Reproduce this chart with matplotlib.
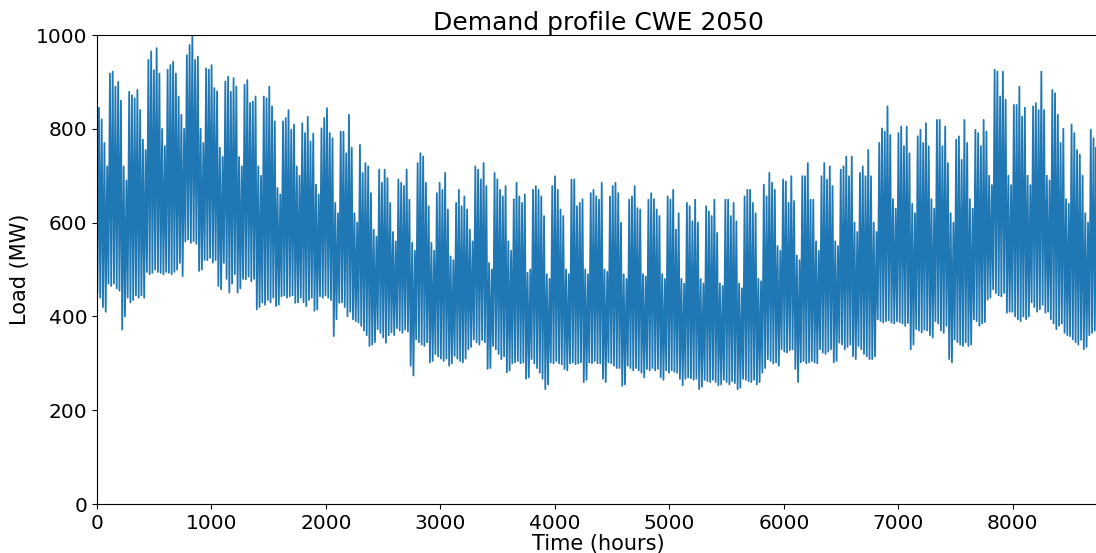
import numpy as np
import matplotlib
matplotlib.use("Agg")
import matplotlib.pyplot as plt

# daily peak load (MW), one value per day of the year
daily_peak = [
    845, 820, 770, 720, 918, 922, 890, 900, 860, 720,
    690, 879, 872, 865, 883, 840, 777, 755, 947, 965,
    925, 972, 918, 800, 763, 926, 936, 943, 918, 869,
    830, 800, 957, 979, 1000, 947, 954, 800, 770, 929,
    926, 936, 887, 880, 760, 740, 901, 911, 879, 908,
    890, 740, 720, 894, 904, 855, 858, 869, 720, 700,
    869, 865, 890, 848, 816, 674, 660, 816, 823, 840,
    798, 809, 720, 700, 812, 791, 826, 773, 790, 681,
    660, 801, 823, 844, 791, 780, 642, 620, 794, 794,
    748, 830, 760, 620, 600, 766, 706, 727, 720, 663,
    585, 570, 713, 685, 713, 695, 642, 580, 560, 692,
    685, 678, 713, 649, 557, 540, 727, 748, 741, 685,
    635, 557, 540, 663, 685, 670, 706, 628, 528, 520,
    642, 670, 635, 656, 628, 585, 560, 720, 713, 692,
    727, 678, 514, 500, 706, 692, 670, 656, 678, 560,
    540, 650, 685, 656, 642, 660, 493, 500, 670, 678,
    670, 656, 614, 490, 480, 678, 699, 670, 628, 614,
    500, 490, 692, 692, 635, 642, 650, 500, 490, 663,
    670, 656, 649, 685, 500, 495, 656, 678, 685, 663,
    600, 490, 480, 649, 656, 678, 631, 628, 490, 485,
    649, 663, 650, 628, 614, 490, 480, 656, 649, 670,
    585, 620, 480, 470, 642, 635, 603, 649, 600, 480,
    470, 635, 624, 614, 649, 578, 470, 465, 649, 649,
    614, 642, 603, 470, 460, 656, 670, 670, 642, 620,
    480, 475, 681, 656, 706, 685, 670, 550, 540, 692,
    688, 642, 699, 646, 530, 520, 699, 699, 727, 649,
    649, 560, 540, 699, 727, 692, 720, 678, 560, 550,
    713, 720, 741, 699, 741, 600, 580, 706, 720, 699,
    755, 699, 600, 580, 770, 801, 794, 848, 787, 650,
    630, 791, 805, 763, 805, 748, 640, 620, 784, 798,
    770, 812, 763, 650, 630, 819, 819, 763, 805, 727,
    620, 600, 777, 784, 734, 819, 770, 650, 630, 798,
    791, 763, 819, 794, 700, 680, 926, 922, 869, 922,
    862, 700, 680, 851, 851, 890, 826, 845, 700, 680,
    848, 855, 840, 922, 840, 700, 690, 883, 876, 830,
    770, 800, 650, 640, 809, 791, 755, 745, 700, 620,
    600, 798, 780, 760, 740,
]

# daily night-time minimum load (MW)
daily_trough = [
    450, 440, 420, 410, 470, 465, 470, 460, 455, 372,
    400, 440, 430, 435, 445, 440, 445, 440, 495, 490,
    493, 500, 495, 493, 490, 495, 493, 490, 495, 500,
    514, 486, 560, 564, 557, 560, 555, 497, 500, 521,
    520, 525, 515, 520, 465, 458, 514, 480, 451, 470,
    490, 451, 460, 480, 479, 485, 475, 480, 415, 420,
    430, 425, 435, 430, 440, 422, 425, 443, 445, 440,
    443, 445, 429, 430, 440, 430, 422, 435, 440, 412,
    415, 443, 440, 445, 440, 435, 358, 394, 429, 430,
    420, 400, 410, 394, 390, 387, 380, 370, 360, 337,
    340, 345, 373, 365, 355, 344, 360, 366, 360, 375,
    370, 365, 372, 368, 295, 274, 351, 345, 340, 337,
    345, 302, 305, 320, 315, 310, 305, 310, 295, 300,
    316, 310, 305, 302, 310, 330, 335, 351, 345, 340,
    350, 345, 288, 290, 337, 330, 320, 309, 315, 281,
    285, 300, 302, 305, 300, 302, 267, 270, 309, 300,
    290, 280, 267, 245, 255, 302, 300, 305, 300, 298,
    288, 285, 300, 302, 298, 300, 302, 260, 265, 302,
    300, 305, 300, 300, 267, 260, 302, 300, 295, 290,
    290, 252, 255, 295, 290, 285, 290, 285, 280, 270,
    288, 285, 290, 285, 288, 270, 265, 285, 280, 285,
    282, 280, 267, 253, 267, 270, 268, 265, 267, 245,
    250, 265, 262, 260, 265, 260, 253, 255, 265, 260,
    255, 262, 258, 245, 248, 267, 265, 262, 260, 265,
    255, 260, 280, 290, 309, 305, 300, 302, 295, 330,
    325, 323, 328, 330, 288, 260, 302, 305, 300, 302,
    305, 302, 300, 330, 323, 320, 325, 330, 302, 305,
    344, 340, 330, 335, 340, 315, 309, 337, 330, 320,
    315, 309, 309, 315, 394, 390, 387, 390, 392, 387,
    385, 390, 388, 385, 380, 386, 330, 340, 373, 370,
    366, 372, 370, 360, 355, 390, 385, 370, 365, 380,
    309, 302, 351, 345, 340, 337, 345, 337, 340, 394,
    390, 380, 385, 388, 436, 440, 458, 450, 445, 443,
    450, 408, 410, 410, 400, 394, 390, 400, 394, 400,
    430, 420, 410, 415, 425, 408, 410, 394, 385, 373,
    380, 385, 365, 360, 358, 351, 345, 340, 350, 330,
    335, 360, 365, 370, 375,
]

days = np.arange(len(daily_peak))
hours = np.empty(2 * len(days))
load = np.empty(2 * len(days))
hours[0::2] = days * 24 + 4
hours[1::2] = days * 24 + 17
load[0::2] = daily_trough
load[1::2] = daily_peak

fig = plt.figure(figsize=(10.96, 5.53), dpi=100)
ax = fig.add_axes([0.0885, 0.0886, 0.915, 0.848])
ax.plot(hours, load, color="#1f77b4", linewidth=1.3)

ax.set_xlim(0, 8760)
ax.set_ylim(0, 1000)
ax.set_xticks(np.arange(0, 9000, 1000))
ax.set_yticks(np.arange(0, 1001, 200))
ax.tick_params(labelsize=14.5)
ax.set_xlabel("Time (hours)", fontsize=15, labelpad=1)
ax.set_ylabel("Load (MW)", fontsize=15)
ax.set_title("Demand profile CWE 2050", fontsize=18, pad=2)

fig.savefig("out.png", dpi=100)
